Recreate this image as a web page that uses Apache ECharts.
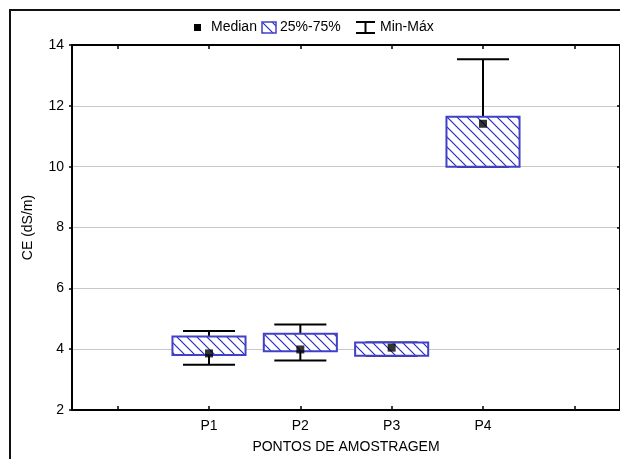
<!DOCTYPE html>
<html>
<head>
<meta charset="utf-8">
<script src="https://cdn.jsdelivr.net/npm/echarts@6/dist/echarts.min.js"></script>
<style>
html,body{margin:0;padding:0;background:#fff;}
#chart{width:620px;height:459px;}
</style>
</head>
<body>
<div id="chart"></div>
<script>
// ---- data ----
const axisCategories = ['', 'P1', 'P2', 'P3', 'P4', ''];
const boxCategories = ['P1', 'P2', 'P3', 'P4'];
const minValues = [3.49, 3.63, 3.78, 10.0];
const q1Values = [3.81, 3.93, 3.78, 10.0];
const medianValues = [3.86, 3.99, 4.05, 11.41];
const q3Values = [4.42, 4.51, 4.22, 11.64];
const maxValues = [4.60, 4.81, 4.22, 13.53];
const yTicks = [2, 4, 6, 8, 10, 12, 14];

const FONT = 'Liberation Sans, Arial, sans-serif';
const BLUE = '#4040c8';

// hatch pattern
function makeHatch() {
  const s = 10;
  const c = document.createElement('canvas');
  c.width = s; c.height = s;
  const g = c.getContext('2d');
  g.fillStyle = '#fff';
  g.fillRect(0, 0, s, s);
  g.strokeStyle = '#2a2abf';
  g.lineWidth = 1.2;
  g.beginPath();
  g.moveTo(-1, -1); g.lineTo(s + 1, s + 1);
  g.moveTo(-1, s - 1); g.lineTo(1, s + 1);
  g.moveTo(s - 1, -1); g.lineTo(s + 1, 1);
  g.stroke();
  return c;
}
const hatch = { image: makeHatch(), repeat: 'repeat' };

const boxData = boxCategories.map((c, i) => [c, q1Values[i], q3Values[i]]);
const whiskerData = boxCategories.map((c, i) => [c, minValues[i], q1Values[i], q3Values[i], maxValues[i]]);
const medianData = boxCategories.map((c, i) => [c, medianValues[i]]);

const chart = echarts.init(document.getElementById('chart'), null, { renderer: 'canvas' });

const axisLine = { show: true, lineStyle: { color: '#000', width: 2 } };

chart.setOption({
  animation: false,
  backgroundColor: '#fff',
  textStyle: { fontFamily: FONT },
  grid: { left: 72, top: 45, right: -1, bottom: 46, containLabel: false },
  xAxis: [{
    type: 'category',
    position: 'bottom',
    data: axisCategories,
    boundaryGap: true,
    axisLine: axisLine,
    axisTick: { show: true, alignWithLabel: true, inside: true, length: 4, interval: 0, lineStyle: { color: '#000', width: 1.5 } },
    axisLabel: { interval: 0, color: '#000', fontSize: 14, fontFamily: FONT, margin: 9 },
    splitLine: { show: false },
    name: 'PONTOS DE AMOSTRAGEM',
    nameLocation: 'middle',
    nameGap: 30,
    nameTextStyle: { color: '#000', fontSize: 14, fontFamily: FONT }
  }, {
    type: 'category',
    position: 'top',
    data: axisCategories,
    boundaryGap: true,
    axisLine: axisLine,
    axisTick: { show: true, alignWithLabel: true, inside: true, length: 4, interval: 0, lineStyle: { color: '#000', width: 1.5 } },
    axisLabel: { show: false },
    splitLine: { show: false }
  }],
  yAxis: [{
    type: 'value',
    position: 'left',
    min: yTicks[0],
    max: yTicks[yTicks.length - 1],
    interval: 2,
    axisLine: axisLine,
    axisTick: { show: true, inside: false, length: 3, lineStyle: { color: '#000', width: 1.5 } },
    axisLabel: { color: '#000', fontSize: 14, fontFamily: FONT, margin: 8 },
    splitLine: { show: true, lineStyle: { color: '#c8c8c8', width: 1 } },
    name: 'CE (dS/m)',
    nameLocation: 'middle',
    nameGap: 37,
    nameTextStyle: { color: '#000', fontSize: 14, fontFamily: FONT }
  }, {
    type: 'value',
    position: 'right',
    min: yTicks[0],
    max: yTicks[yTicks.length - 1],
    interval: 2,
    axisLine: axisLine,
    axisTick: { show: true, inside: true, length: 3, lineStyle: { color: '#000', width: 1.5 } },
    axisLabel: { show: false },
    splitLine: { show: false }
  }],
  series: [{
    name: 'Min-Máx',
    type: 'custom',
    z: 2,
    data: whiskerData,
    encode: { x: 0, y: [1, 2, 3, 4] },
    renderItem: function (params, api) {
      const x = api.value(0);
      const pMin = api.coord([x, api.value(1)]);
      const pQ1 = api.coord([x, api.value(2)]);
      const pQ3 = api.coord([x, api.value(3)]);
      const pMax = api.coord([x, api.value(4)]);
      const cw = api.size([1, 0])[0] * 0.57;
      const st = { stroke: '#000', lineWidth: 2 };
      return {
        type: 'group',
        children: [
          { type: 'line', shape: { x1: pQ3[0], y1: pQ3[1], x2: pMax[0], y2: pMax[1] }, style: st },
          { type: 'line', shape: { x1: pMax[0] - cw / 2, y1: pMax[1], x2: pMax[0] + cw / 2, y2: pMax[1] }, style: st },
          { type: 'line', shape: { x1: pQ1[0], y1: pQ1[1], x2: pMin[0], y2: pMin[1] }, style: st },
          { type: 'line', shape: { x1: pMin[0] - cw / 2, y1: pMin[1], x2: pMin[0] + cw / 2, y2: pMin[1] }, style: st }
        ]
      };
    }
  }, {
    name: '25%-75%',
    type: 'custom',
    z: 3,
    data: boxData,
    encode: { x: 0, y: [1, 2] },
    renderItem: function (params, api) {
      const x = api.value(0);
      const lo = api.coord([x, api.value(1)]);
      const hi = api.coord([x, api.value(2)]);
      const w = api.size([1, 0])[0] * 0.8;
      return {
        type: 'rect',
        shape: { x: lo[0] - w / 2, y: hi[1], width: w, height: lo[1] - hi[1] },
        style: { fill: hatch, stroke: BLUE, lineWidth: 2 }
      };
    }
  }, {
    name: 'Median',
    type: 'scatter',
    z: 4,
    data: medianData,
    symbol: 'rect',
    symbolSize: 8,
    itemStyle: { color: '#000' }
  }],
  graphic: [
    { type: 'rect', z: 100, shape: { x: 10, y: 10, width: 700, height: 500 }, style: { fill: 'none', stroke: '#111', lineWidth: 2 } },
    // legend
    { type: 'rect', z: 100, shape: { x: 194, y: 24, width: 7, height: 7 }, style: { fill: '#000' } },
    { type: 'text', z: 100, x: 211, y: 27.5, style: { text: 'Median', font: '14px ' + FONT, fill: '#000', verticalAlign: 'middle' } },
    { type: 'rect', z: 100, shape: { x: 262, y: 22, width: 14, height: 11 }, style: { fill: hatch, stroke: BLUE, lineWidth: 1.5 } },
    { type: 'text', z: 100, x: 280, y: 27.5, style: { text: '25%-75%', font: '14px ' + FONT, fill: '#000', verticalAlign: 'middle' } },
    { type: 'line', z: 100, shape: { x1: 356, y1: 22, x2: 375, y2: 22 }, style: { stroke: '#000', lineWidth: 2 } },
    { type: 'line', z: 100, shape: { x1: 365.5, y1: 22, x2: 365.5, y2: 33 }, style: { stroke: '#000', lineWidth: 2 } },
    { type: 'line', z: 100, shape: { x1: 356, y1: 33, x2: 375, y2: 33 }, style: { stroke: '#000', lineWidth: 2 } },
    { type: 'text', z: 100, x: 380, y: 27.5, style: { text: 'Min-Máx', font: '14px ' + FONT, fill: '#000', verticalAlign: 'middle' } }
  ]
});
</script>
</body>
</html>
